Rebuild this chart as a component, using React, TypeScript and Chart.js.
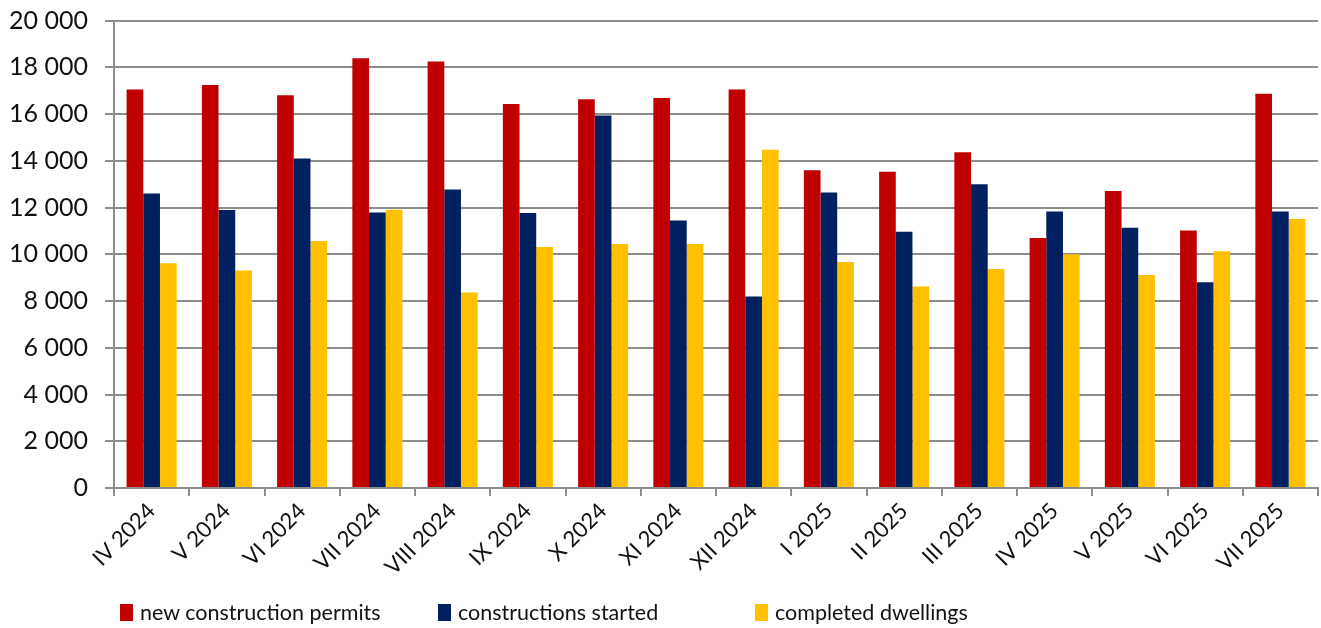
import React, { useEffect, useRef } from "react";
import { Chart, registerables } from "chart.js";

Chart.register(...registerables);

const categories = [
  "IV 2024", "V 2024", "VI 2024", "VII 2024", "VIII 2024", "IX 2024", "X 2024", "XI 2024",
  "XII 2024", "I 2025", "II 2025", "III 2025", "IV 2025", "V 2025", "VI 2025", "VII 2025",
];
const seriesNames = ["new construction permits", "constructions started", "completed dwellings"];
const permits = [17050, 17240, 16800, 18380, 18250, 16430, 16630, 16680, 17050, 13590, 13530, 14360, 10700, 12710, 11020, 16870];
const started = [12600, 11890, 14100, 11790, 12770, 11770, 15940, 11440, 8190, 12640, 10960, 12990, 11830, 11130, 8800, 11830];
const completed = [9620, 9300, 10570, 11900, 8360, 10310, 10440, 10440, 14470, 9670, 8620, 9370, 10000, 9110, 10130, 11510];
const colors = ["#C00000", "#002060", "#FFC000"];
const yMax = 20000;
const yStep = 2000;

const FONT = "Lato, 'Open Sans', sans-serif";
const SHIFT = 9;

function fmt(v: number): string {
  if (v === 0) return "0";
  const th = Math.floor(v / 1000);
  const rest = String(v % 1000).padStart(3, "0");
  return `${th} ${rest}`;
}

export default function App() {
  const ref = useRef<HTMLCanvasElement | null>(null);

  useEffect(() => {
    document.body.style.margin = "0";
    const canvas = ref.current;
    if (!canvas) return;
    const data = [permits, started, completed];
    const chart = new Chart(canvas, {
      type: "bar",
      data: {
        labels: categories,
        datasets: data.map((d, i) => ({
          label: seriesNames[i],
          data: d,
          backgroundColor: colors[i],
          borderWidth: 0,
          categoryPercentage: 0.665,
          barPercentage: 1.0,
        })),
      },
      options: {
        animation: false,
        responsive: false,
        maintainAspectRatio: false,
        devicePixelRatio: 1,
        layout: { padding: { top: 0, right: 3, left: 0, bottom: 0 } },
        plugins: {
          legend: { display: false },
          tooltip: { enabled: false },
        },
        scales: {
          x: {
            offset: true,
            grid: {
              offset: true,
              drawOnChartArea: false,
              drawTicks: true,
              tickLength: 8,
              color: "#8c8c8c",
              lineWidth: 2,
            },
            border: { color: "#8c8c8c", width: 2 },
            ticks: {
              color: "#111",
              font: { family: FONT, size: 22 },
              minRotation: 45,
              maxRotation: 45,
              autoSkip: false,
              padding: 2,
            },
            afterFit: (s: any) => {
              s.height = 140;
            },
          },
          y: {
            min: 0,
            max: yMax,
            grid: {
              color: "#8c8c8c",
              lineWidth: 2,
              tickLength: 9,
              drawTicks: true,
            },
            border: { color: "#8c8c8c", width: 2 },
            ticks: {
              stepSize: yStep,
              color: "#111",
              font: { family: FONT, size: 25, lineHeight: 1 },
              padding: 17,
              callback: (v: any) => fmt(Number(v)),
            },
            afterFit: (s: any) => {
              s.width = 114;
            },
          },
        },
      },
    });
    return () => chart.destroy();
  }, []);

  const legendLeft = [120, 438, 755];

  return (
    <div style={{ position: "relative", width: 1321, height: 628, overflow: "hidden", background: "#fff" }}>
      <canvas
        ref={ref}
        width={1321}
        height={628 + SHIFT}
        style={{ display: "block", position: "absolute", left: 0, top: -SHIFT }}
      />
      {seriesNames.map((name, i) => (
        <div
          key={name}
          style={{
            position: "absolute",
            left: legendLeft[i],
            top: 600,
            height: 24,
            display: "flex",
            alignItems: "center",
            fontFamily: FONT,
            fontSize: 21.5,
            color: "#111",
            whiteSpace: "nowrap",
          }}
        >
          <span style={{ display: "inline-block", width: 13, height: 17, background: colors[i], marginRight: 7 }} />
          <span>{name}</span>
        </div>
      ))}
    </div>
  );
}
